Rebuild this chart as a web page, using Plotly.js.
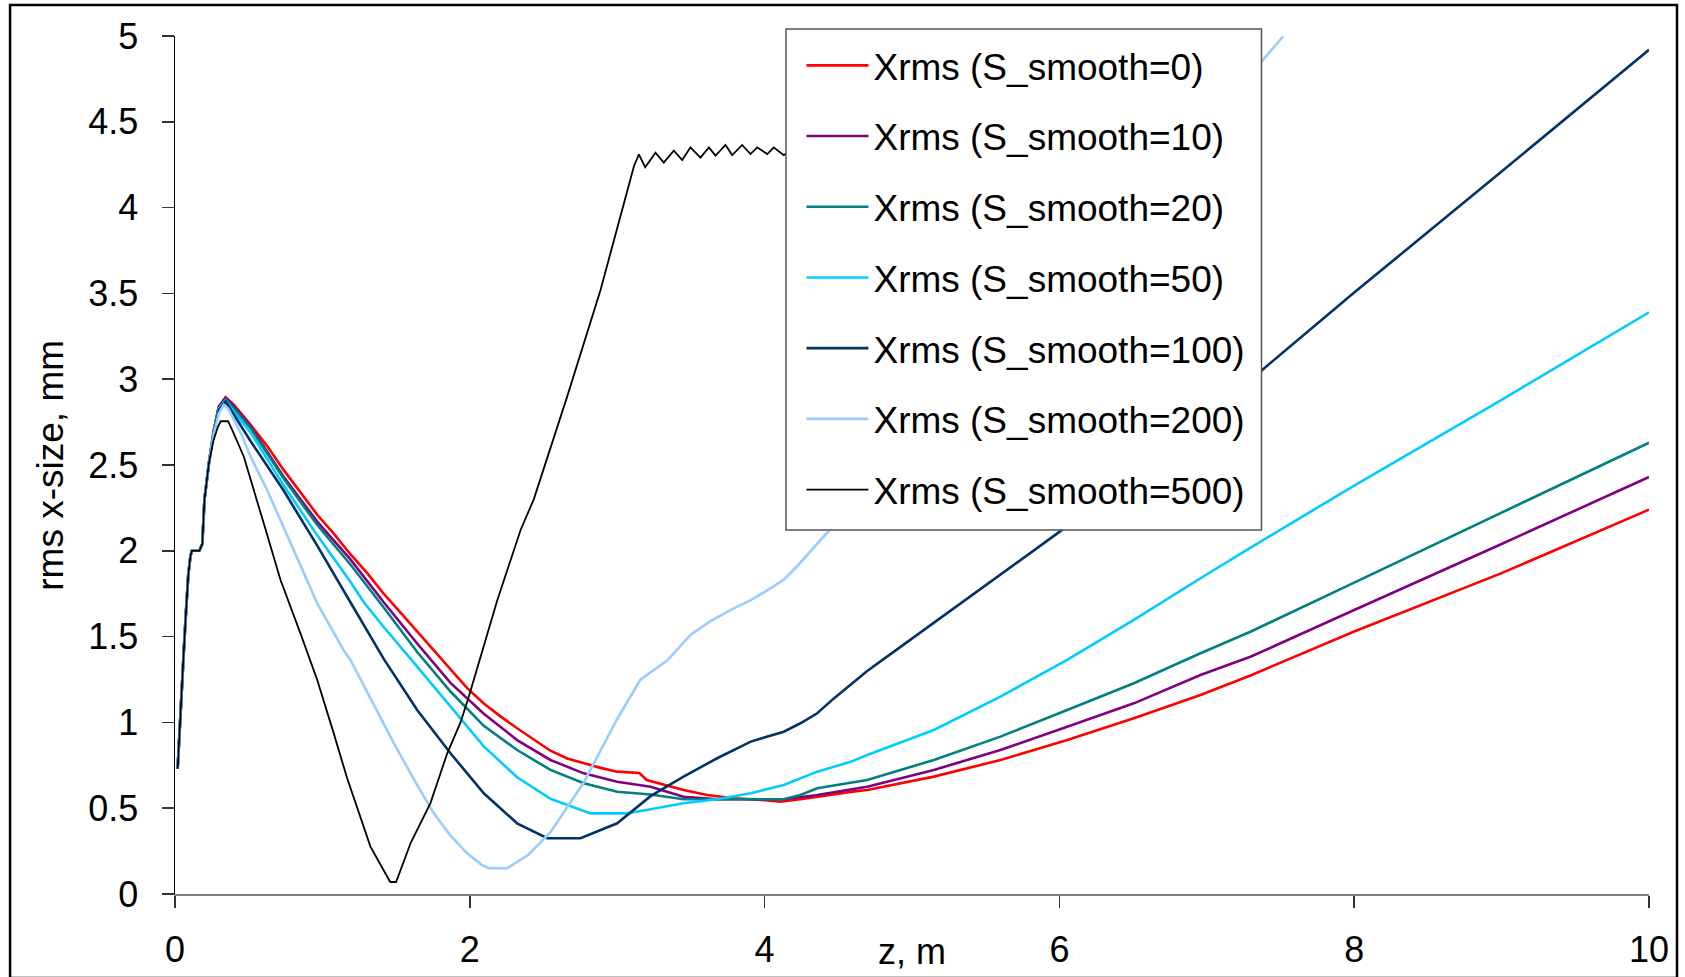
<!DOCTYPE html>
<html>
<head>
<meta charset="utf-8">
<script src="https://cdn.plot.ly/plotly-3.0.1.min.js"></script>
<style>
  html, body { margin: 0; padding: 0; background: #ffffff; }
  #chart { width: 1685px; height: 977px; }
</style>
</head>
<body>
<div id="chart"></div>
<script>
// ---- Data (z in m, rms x-size in mm) ----
const seriesNames = [
  "Xrms (S_smooth=0)", "Xrms (S_smooth=10)", "Xrms (S_smooth=20)",
  "Xrms (S_smooth=50)", "Xrms (S_smooth=100)", "Xrms (S_smooth=200)",
  "Xrms (S_smooth=500)"
];
const seriesColors = ["#FF0000", "#800080", "#008080", "#00CCFF", "#003366", "#99CCFF", "#000000"];

// common initial rise shared by all runs
const riseZ = [0.018, 0.03, 0.045, 0.06, 0.075, 0.09, 0.105, 0.115, 0.165, 0.185, 0.2, 0.23];
const riseY = [0.73, 0.95, 1.15, 1.42, 1.65, 1.86, 1.97, 2.0, 2.0, 2.04, 2.3, 2.51];

const z0 = [0.263, 0.297, 0.343, 0.40, 0.512, 0.625, 0.738, 0.965, 1.077, 1.19, 1.304, 1.416, 1.53, 1.643, 1.756, 1.869, 1.982, 2.095, 2.208, 2.321, 2.434, 2.547, 2.661, 2.773, 2.887, 3.0, 3.15, 3.2, 3.316, 3.45, 3.61, 3.79, 3.95, 4.108, 4.243, 4.357, 4.583, 4.696, 5.148, 5.6, 6.053, 6.505, 6.957, 7.3, 8, 9, 10];
const x0 = [2.70, 2.84, 2.895, 2.85, 2.735, 2.61, 2.47, 2.21, 2.10, 1.98, 1.87, 1.75, 1.64, 1.53, 1.42, 1.31, 1.20, 1.11, 1.035, 0.966, 0.90, 0.835, 0.79, 0.762, 0.735, 0.713, 0.705, 0.664, 0.635, 0.606, 0.577, 0.558, 0.55, 0.538, 0.552, 0.567, 0.595, 0.606, 0.684, 0.781, 0.897, 1.024, 1.16, 1.275, 1.53, 1.87, 2.24];

const z10 = [0.263, 0.297, 0.343, 0.40, 0.512, 0.738, 0.965, 1.19, 1.416, 1.643, 1.869, 2.095, 2.321, 2.547, 2.773, 3.0, 3.226, 3.45, 3.678, 4.13, 4.357, 4.583, 4.696, 5.148, 5.6, 6.053, 6.505, 6.957, 7.3, 8, 9, 10];
const x10 = [2.70, 2.84, 2.89, 2.84, 2.725, 2.43, 2.17, 1.95, 1.70, 1.46, 1.23, 1.05, 0.897, 0.781, 0.703, 0.654, 0.625, 0.567, 0.552, 0.552, 0.577, 0.61, 0.625, 0.723, 0.839, 0.975, 1.111, 1.276, 1.384, 1.655, 2.04, 2.43];

const z20 = [0.263, 0.297, 0.343, 0.40, 0.512, 0.738, 0.965, 1.19, 1.416, 1.643, 1.869, 2.095, 2.321, 2.547, 2.773, 3.0, 3.226, 3.45, 4.13, 4.243, 4.357, 4.583, 4.696, 5.148, 5.6, 6.053, 6.505, 6.957, 7.3, 8, 9, 10];
const x20 = [2.70, 2.83, 2.88, 2.83, 2.715, 2.42, 2.15, 1.92, 1.67, 1.41, 1.18, 0.98, 0.839, 0.723, 0.645, 0.596, 0.58, 0.552, 0.552, 0.577, 0.616, 0.649, 0.664, 0.781, 0.917, 1.072, 1.228, 1.403, 1.53, 1.815, 2.224, 2.63];

const z50 = [0.263, 0.297, 0.343, 0.40, 0.512, 0.738, 0.965, 1.19, 1.281, 1.416, 1.643, 1.869, 2.095, 2.321, 2.547, 2.819, 3.068, 3.226, 3.45, 3.678, 3.906, 4.13, 4.243, 4.357, 4.583, 4.696, 5.148, 5.6, 6.053, 6.505, 6.957, 7.3, 8, 9, 10];
const x50 = [2.70, 2.83, 2.875, 2.81, 2.69, 2.38, 2.09, 1.82, 1.70, 1.556, 1.325, 1.09, 0.86, 0.68, 0.555, 0.47, 0.47, 0.494, 0.529, 0.552, 0.587, 0.635, 0.674, 0.713, 0.77, 0.81, 0.956, 1.15, 1.364, 1.597, 1.84, 2.02, 2.38, 2.88, 3.39];

const z100 = [0.263, 0.297, 0.343, 0.45, 0.512, 0.738, 0.965, 1.19, 1.326, 1.416, 1.643, 1.869, 2.095, 2.321, 2.525, 2.751, 3.0, 3.226, 3.45, 3.678, 3.906, 4.13, 4.243, 4.357, 4.47, 4.583, 4.696, 4.922, 5.374, 5.826, 6.0, 7.37, 8, 9, 10];
const x100 = [2.69, 2.82, 2.87, 2.72, 2.64, 2.35, 2.03, 1.70, 1.50, 1.37, 1.072, 0.82, 0.587, 0.412, 0.325, 0.325, 0.412, 0.57, 0.684, 0.791, 0.888, 0.946, 0.995, 1.053, 1.14, 1.22, 1.30, 1.44, 1.72, 2.0, 2.11, 3.05, 3.505, 4.21, 4.92];

const z200 = [0.263, 0.297, 0.33, 0.36, 0.45, 0.512, 0.625, 0.784, 0.965, 1.145, 1.19, 1.485, 1.62, 1.756, 1.869, 1.982, 2.08, 2.13, 2.254, 2.4, 2.547, 2.773, 3.0, 3.158, 3.226, 3.339, 3.497, 3.633, 3.79, 3.906, 4.0, 4.128, 4.22, 4.46, 5.5, 6.5, 7.38, 7.45, 7.52];
const x200 = [2.68, 2.80, 2.85, 2.83, 2.68, 2.55, 2.354, 2.044, 1.694, 1.42, 1.364, 0.878, 0.67, 0.47, 0.34, 0.237, 0.17, 0.15, 0.15, 0.23, 0.36, 0.65, 1.02, 1.25, 1.29, 1.36, 1.51, 1.59, 1.665, 1.713, 1.76, 1.83, 1.91, 2.14, 3.1, 4.0, 4.86, 4.93, 5.0];

const z500 = [0.26, 0.29, 0.31, 0.36, 0.39, 0.467, 0.602, 0.716, 0.851, 0.965, 1.077, 1.168, 1.326, 1.46, 1.50, 1.60, 1.733, 1.847, 1.937, 1.993, 2.186, 2.344, 2.434, 2.661, 2.887, 3.113, 3.147, 3.19, 3.26, 3.316, 3.384, 3.441, 3.497, 3.565, 3.622, 3.667, 3.735, 3.78, 3.848, 3.904, 3.95, 4.018, 4.062, 4.13, 4.2, 4.3];
const x500 = [2.64, 2.72, 2.755, 2.755, 2.70, 2.548, 2.16, 1.83, 1.519, 1.247, 0.936, 0.674, 0.276, 0.07, 0.07, 0.30, 0.53, 0.82, 1.0, 1.15, 1.71, 2.12, 2.30, 2.90, 3.52, 4.24, 4.31, 4.235, 4.32, 4.262, 4.332, 4.277, 4.351, 4.291, 4.351, 4.303, 4.365, 4.306, 4.365, 4.312, 4.351, 4.312, 4.351, 4.306, 4.34, 4.31];

const zSeries = [z0, z10, z20, z50, z100, z200, z500];
const xSeries = [x0, x10, x20, x50, x100, x200, x500];

const xTickVals = [0, 2, 4, 6, 8, 10];
const yTickVals = [0, 0.5, 1, 1.5, 2, 2.5, 3, 3.5, 4, 4.5, 5];

// ---- Traces ----
const FONT = "Liberation Sans, Arial, Helvetica, sans-serif";
const traces = seriesNames.map((name, i) => ({
  type: "scatter",
  mode: "lines",
  name: name,
  legendgroup: "g" + i,
  x: riseZ.concat(zSeries[i]),
  y: riseY.concat(xSeries[i]),
  line: { color: seriesColors[i], width: i === 6 ? 1.8 : 2.6 },
  hoverinfo: "x+y+name"
}));

const layout = {
  width: 1685,
  height: 977,
  margin: { l: 175, r: 36, t: 36, b: 83, pad: 0 },
  paper_bgcolor: "#ffffff",
  plot_bgcolor: "#ffffff",
  font: { family: FONT, size: 36, color: "#000000" },
  showlegend: true,
  xaxis: {
    range: [0, 10],
    tickvals: xTickVals,
    ticks: "outside",
    ticklen: 12,
    tickwidth: 1.5,
    tickcolor: "#333333",
    showline: true,
    linecolor: "#808080",
    linewidth: 2,
    showgrid: false,
    zeroline: false,
    tickfont: { family: FONT, size: 36, color: "#000000" },
    ticklabelstandoff: 11
  },
  yaxis: {
    range: [0, 5],
    tickvals: yTickVals,
    ticks: "outside",
    ticklen: 12,
    tickwidth: 1.5,
    tickcolor: "#333333",
    showline: true,
    linecolor: "#000000",
    linewidth: 1.5,
    showgrid: false,
    zeroline: false,
    tickfont: { family: FONT, size: 36, color: "#000000" },
    ticklabelstandoff: 16
  },
  legend: {
    x: 0.4250, y: 1.0014, xanchor: "left", yanchor: "top",
    bgcolor: "rgba(0,0,0,0)",
    borderwidth: 0,
    font: { family: FONT, size: 37, color: "#000000" },
    traceorder: "grouped",
    tracegroupgap: 19.6,
    itemwidth: 62
  },
  annotations: [
    {
      text: "z, m", xref: "x", yref: "paper", x: 5, y: -0.0665,
      xanchor: "center", yanchor: "middle", showarrow: false,
      font: { family: FONT, size: 36, color: "#000000" }
    },
    {
      text: "rms x-size, mm", xref: "paper", yref: "paper", x: -0.085, y: 0.5,
      xanchor: "center", yanchor: "middle", showarrow: false, textangle: -90,
      font: { family: FONT, size: 37, color: "#000000" }
    }
  ],
  shapes: [
    // legend box (white, hides the curves behind it)
    {
      type: "rect", xref: "paper", yref: "paper",
      x0: 0.4145, x1: 0.7371, y0: 0.4242, y1: 1.0082,
      line: { color: "#555555", width: 1.5 }, fillcolor: "#ffffff", layer: "above"
    },
    // outer chart frame
    {
      type: "rect", xref: "paper", yref: "paper",
      x0: -0.1119, x1: 1.019, y0: -0.0979, y1: 1.0361,
      line: { color: "#000000", width: 2.5 }, fillcolor: "rgba(0,0,0,0)", layer: "above"
    }
  ]
};

Plotly.newPlot("chart", traces, layout, { displayModeBar: false, staticPlot: true });
</script>
</body>
</html>
